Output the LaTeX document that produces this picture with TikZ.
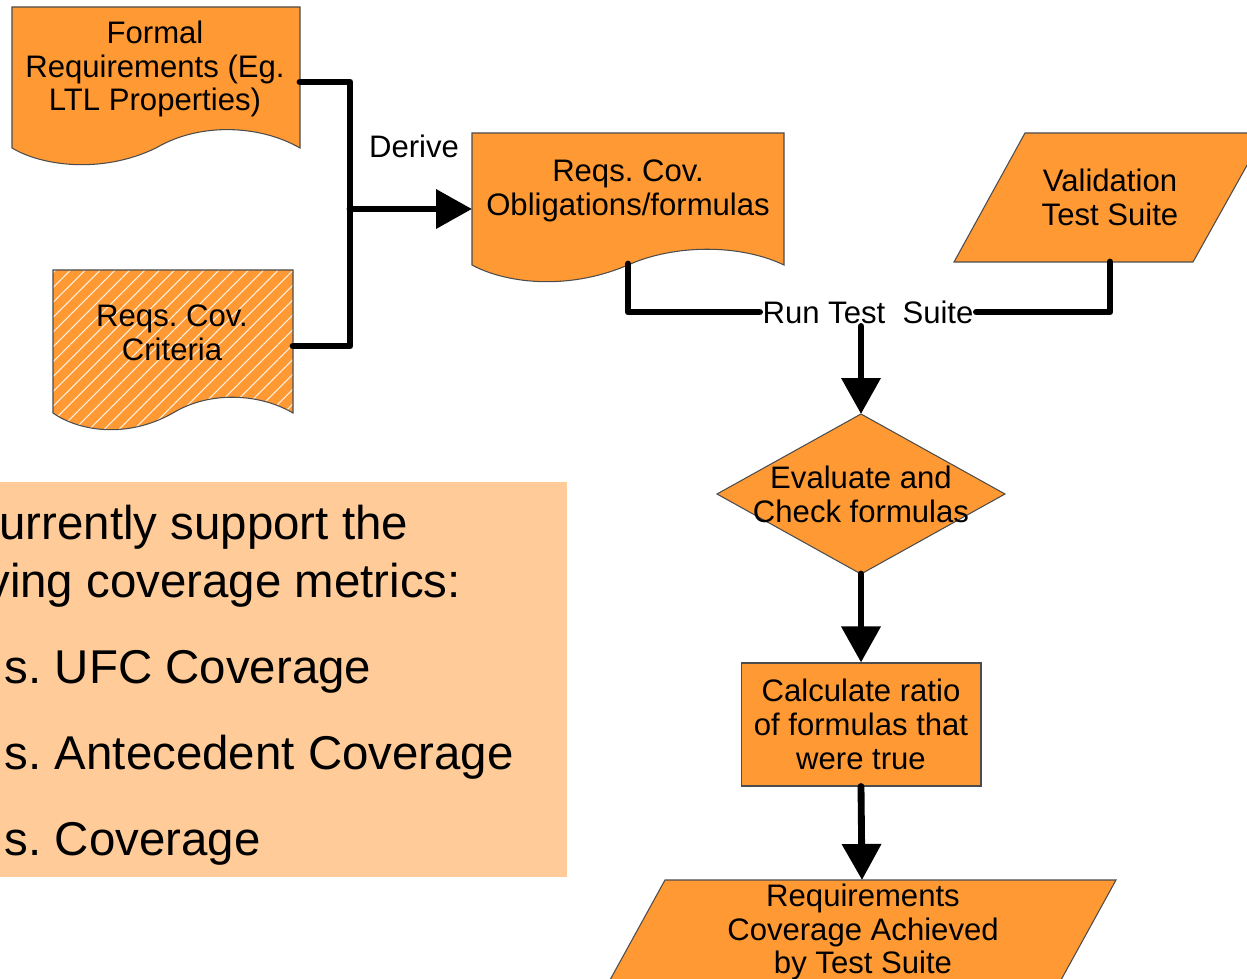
\documentclass[tikz,border=0pt]{standalone}
\usepackage{fontspec}
\setmainfont{Liberation Sans}
\usetikzlibrary{arrows.meta,patterns.meta}
\definecolor{boxorange}{HTML}{FF9933}
\definecolor{paleorange}{HTML}{FFCC99}
\tikzset{
  orangebox/.style={fill=boxorange, draw=black!70, line width=0.6pt},
  txt/.style={align=center, inner sep=0pt, font=\fontsize{17.7}{19.3}\selectfont},
  link/.style={line width=3.9pt, line cap=round, line join=round},
  flow/.style={link, -{Triangle[length=0.72cm,width=0.76cm]}}
}
\frenchspacing

\begin{document}
\begin{tikzpicture}[x=0.02cm, y=-0.02cm]
        \useasboundingbox (0,0) rectangle (1247,979);
        \clip (0,0) rectangle (1247,979);

        % left panel with the metrics
        \fill[paleorange] (0,482) rectangle (567,877);
        \node[anchor=north west, align=left, inner sep=0pt,
              font=\fontsize{27}{33}\selectfont] (metrics) at (-1,505)
              {urrently support the\\\hspace*{-0.26cm}ving coverage metrics:\\[0.56cm]
               \hspace*{0.11cm}s. UFC Coverage\\[0.56cm]
               \hspace*{0.11cm}s. Antecedent Coverage\\[0.56cm]
               \hspace*{0.11cm}s. Coverage};

        % document shapes
        \path[orangebox] (12,7) -- (300,7) -- (300,148)
            .. controls (260,125) and (200,122) .. (156,148)
            .. controls (100,175) and (40,165) .. (12,148) -- cycle;
        \path[orangebox, preaction={fill=boxorange},
              pattern={Lines[angle=45,distance=0.21cm,line width=0.6pt]},
              pattern color=white!85!boxorange] (53,270) -- (293,270) -- (293,413)
            .. controls (259,393) and (209,391) .. (173,413)
            .. controls (125,440) and (77,430) .. (53,413) -- cycle;
        \path[orangebox] (472,133) -- (784,133) -- (784,265)
            .. controls (740,244) and (675,244) .. (628,265)
            .. controls (565,292) and (503,282) .. (472,265) -- cycle;

        % data shapes and decision
        \path[orangebox] (1025,133) -- (1265,133) -- (1193,262) -- (954,262) -- cycle;
        \path[orangebox] (861,414) -- (1005,494) -- (861,574) -- (717,494) -- cycle;
        \path[orangebox] (665,880) -- (1116,880) -- (1045,1009) -- (594,1009) -- cycle;

        \node[txt] (form) at (155,69) {Formal\\Requirements (Eg.\\LTL Properties)};
        \node[txt] (crit) at (172,333) {Reqs. Cov.\\Criteria};
        \node[txt] (oblig) at (628,191) {Reqs. Cov.\\Obligations/formulas};
        \node[txt] (valid) at (1110,197) {Validation\\Test Suite};
        \node[txt] (eval) at (861,494) {Evaluate and\\Check formulas};
        \node[txt, orangebox, minimum width=4.8cm, minimum height=2.46cm] (calc)
            at (861,724.5) {Calculate ratio\\of formulas that\\were true};
        \node[txt] (cover) at (863,932) {Requirements\\Coverage Achieved\\by Test Suite};
        \node[txt] (derive) at (414,146) {Derive};
        \node[txt, inner sep=1.5pt] (run) at (868,312) {Run Test\ \ Suite};

        \coordinate (fr) at (300,82);
        \coordinate (cr) at (293,346);
        \coordinate (jn) at (350,209);
        \coordinate (obin) at (472,209);
        \coordinate (obout) at (628,264);
        \coordinate (vout) at (1110,262);
        \coordinate (evtop) at (861,414);
        \coordinate (evbot) at (861,574);
        \coordinate (covtop) at (862,880);

        \draw[link] (fr) -| (jn) |- (cr);
        \draw[flow] (jn) -- (obin);
        \draw[link] (obout) |- (run.west);
        \draw[link] (vout) |- (run.east);
        \draw[flow] (run.south -| evtop) -- (evtop);
        \draw[flow] (evbot) -- (calc.north);
        \draw[flow] (calc.south) -- (covtop);
\end{tikzpicture}
\end{document}
